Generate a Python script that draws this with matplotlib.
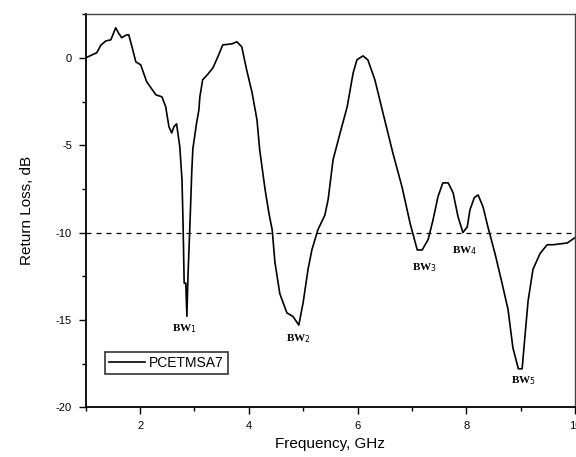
import matplotlib.pyplot as plt
from matplotlib.ticker import MultipleLocator

# Return loss curve
freq = [1.00, 1.10, 1.20, 1.28, 1.37, 1.46, 1.55, 1.60, 1.66, 1.74, 1.79, 1.85, 1.92,
        2.01, 2.12, 2.29, 2.40, 2.47, 2.53, 2.58, 2.62, 2.67, 2.73, 2.77, 2.79, 2.81,
        2.84, 2.86, 2.88, 2.92, 2.95, 2.97, 3.04, 3.08, 3.10, 3.15, 3.25, 3.34, 3.43,
        3.52, 3.69, 3.78, 3.87, 3.96, 4.06, 4.15, 4.20, 4.30, 4.37, 4.43, 4.48, 4.57,
        4.70, 4.81, 4.92, 5.00, 5.09, 5.16, 5.27, 5.40, 5.46, 5.55, 5.68, 5.81, 5.92,
        5.99, 6.10, 6.19, 6.32, 6.47, 6.65, 6.82, 6.97, 7.10, 7.19, 7.30, 7.39, 7.48,
        7.57, 7.67, 7.76, 7.85, 7.94, 8.02, 8.07, 8.15, 8.22, 8.31, 8.40, 8.53, 8.66,
        8.77, 8.86, 8.96, 9.03, 9.08, 9.14, 9.23, 9.36, 9.49, 9.60, 9.86, 10.0]
return_loss = [0.0, 0.15, 0.29, 0.74, 0.97, 1.03, 1.72, 1.43, 1.15, 1.30, 1.32, 0.63, -0.23,
               -0.40, -1.37, -2.12, -2.23, -2.80, -3.95, -4.30, -3.95, -3.78, -5.10, -7.00, -9.56, -12.9,
               -12.9, -14.8, -12.5, -9.2, -6.5, -5.2, -3.7, -3.0, -2.2, -1.26, -0.92, -0.57, 0.06,
               0.74, 0.80, 0.92, 0.63, -0.69, -2.0, -3.55, -5.27, -7.56, -8.9, -9.85, -11.7, -13.5,
               -14.6, -14.8, -15.3, -14.0, -12.1, -11.0, -9.85, -9.0, -8.1, -5.84, -4.3, -2.8, -0.86,
               -0.11, 0.11, -0.11, -1.26, -3.17, -5.44, -7.4, -9.5, -11.0, -11.0, -10.4, -9.28, -7.96,
               -7.16, -7.16, -7.73, -9.1, -10.0, -9.68, -8.7, -8.0, -7.85, -8.53, -9.68, -11.2, -12.9,
               -14.4, -16.6, -17.8, -17.8, -16.0, -13.9, -12.1, -11.2, -10.7, -10.7, -10.6, -10.3]

# Bandwidth annotations
bw_labels = ['1', '2', '3', '4', '5']
bw_x = [2.82, 4.92, 7.24, 7.98, 9.05]
bw_y = [-15.5, -16.1, -12.0, -11.05, -18.5]

threshold = -10

plt.rcParams['font.family'] = ['Liberation Sans', 'DejaVu Sans']
plt.rcParams['axes.unicode_minus'] = False

fig = plt.figure(figsize=(5.76, 4.57), dpi=100)
ax = fig.add_axes([0.149, 0.109, 0.849, 0.860])

ax.plot(freq, return_loss, color='black', linewidth=1.2, label='PCETMSA7')
ax.axhline(threshold, color='black', linewidth=0.9, linestyle=(0, (4, 4)))

for lab, x, y in zip(bw_labels, bw_x, bw_y):
    ax.text(x, y, 'BW$_{' + lab + '}$', ha='center', va='center', fontsize=8,
            fontweight='bold', family='Liberation Serif')

ax.set_xlim(1, 10)
ax.set_ylim(-20, 2.5)
ax.xaxis.set_major_locator(MultipleLocator(2))
ax.xaxis.set_minor_locator(MultipleLocator(1))
ax.yaxis.set_major_locator(MultipleLocator(5))
ax.yaxis.set_minor_locator(MultipleLocator(2.5))
ax.tick_params(which='major', direction='out', length=5, width=1, labelsize=8, pad=5)
ax.tick_params(which='minor', direction='out', length=3, width=1)
ax.tick_params(top=False, right=False, which='both')

for side in ['left', 'bottom']:
    ax.spines[side].set_linewidth(1.3)
for side in ['top', 'right']:
    ax.spines[side].set_linewidth(1.0)
    ax.spines[side].set_color('#444444')

ax.set_xlabel('Frequency, GHz', fontsize=11, labelpad=4)
ax.set_ylabel('Return Loss, dB', fontsize=11, labelpad=16)

leg = ax.legend(loc='lower left', bbox_to_anchor=(0.039, 0.084), fontsize=10,
                frameon=True, fancybox=False, handlelength=2.6, borderpad=0.3,
                handletextpad=0.3, borderaxespad=0)
leg.get_frame().set_edgecolor('black')
leg.get_frame().set_linewidth(1.2)

fig.savefig('out.png', dpi=100)
